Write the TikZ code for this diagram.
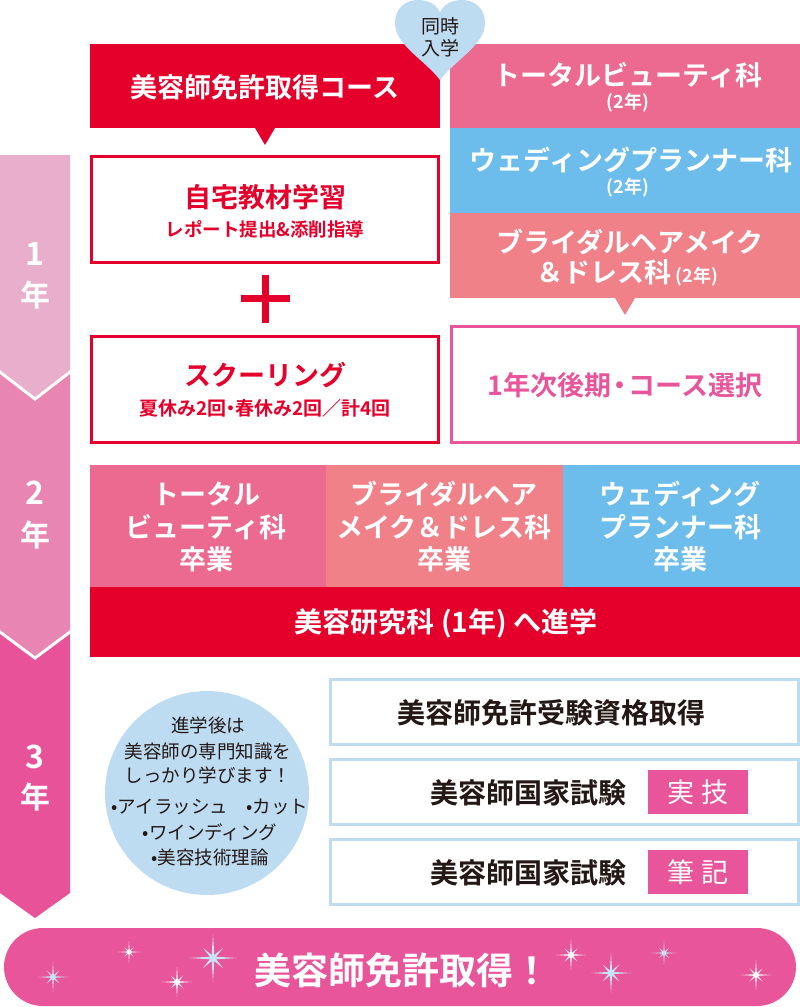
\documentclass[tikz,border=0pt]{standalone}
\usepackage{fontspec}
\setmainfont{Noto Sans CJK JP}[BoldFont={Noto Sans CJK JP Bold}]
\definecolor{cred}{HTML}{E4002B}
\definecolor{cpink}{HTML}{EC6A8F}
\definecolor{cblue}{HTML}{6CBDEB}
\definecolor{csalmon}{HTML}{F08189}
\definecolor{cmag}{HTML}{E8559A}
\definecolor{segA}{HTML}{E8AECB}
\definecolor{segB}{HTML}{E985B2}
\definecolor{segC}{HTML}{E75299}
\definecolor{clblue}{HTML}{BDDCF2}
\definecolor{cspark}{HTML}{C9E3F6}
\definecolor{cdark}{HTML}{231815}
\newcommand\myfs[1]{\fontsize{#1}{#1}\selectfont}
\newcommand\nd{\hspace{-5pt}・\hspace{-5pt}}
\newcommand\spk[4]{%
  \begin{scope}[shift={(#1,#2)}]
  \fill[#4] (0:#3) -- (22.5:0.14*#3) -- (45:0.6*#3) -- (67.5:0.14*#3) -- (90:#3) -- (112.5:0.14*#3) -- (135:0.6*#3) -- (157.5:0.14*#3) -- (180:#3) -- (202.5:0.14*#3) -- (225:0.6*#3) -- (247.5:0.14*#3) -- (270:#3) -- (292.5:0.14*#3) -- (315:0.6*#3) -- (337.5:0.14*#3) -- cycle;
  \end{scope}}
\begin{document}
\begin{tikzpicture}[x=1pt,y=-1pt,
  shapebox/.style={inner sep=0pt, outer sep=0pt},
  fillbox/.style={shapebox, fill=#1},
  framebox/.style={shapebox, draw=#1, line width=3pt, fill=white},
  wt/.style={text=white, font=\bfseries\myfs{#1}, inner sep=0pt, align=center},
  rt/.style={text=cred, font=\bfseries\myfs{#1}, inner sep=0pt, align=center},
  dt/.style={text=cdark, font=\bfseries\myfs{#1}, inner sep=0pt, align=center},
  nt/.style={text=cdark, font=\myfs{#1}, inner sep=0pt, align=center},
]
\useasboundingbox (0,0) rectangle (800,1007);
\fill[white] (0,0) rectangle (800,1007);

% ---- year arrow ----
\fill[segC] (0,630) -- (70,630) -- (70,893) -- (35,918) -- (0,893) -- cycle;
\fill[segB] (0,370) -- (70,370) -- (70,630) -- (35,656) -- (0,630) -- cycle;
\draw[white, line width=3pt] (-2,630.5) -- (35,658) -- (72,630.5);
\fill[segA] (0,155) -- (70,155) -- (70,370) -- (35,397) -- (0,370) -- cycle;
\draw[white, line width=3pt] (-2,370.5) -- (35,399) -- (72,370.5);
\node[wt=32] (y1n) at (35,254) {1};
\node[wt=30] (y1) at (35,295) {年};
\node[wt=32] (y2n) at (35,493) {2};
\node[wt=30] (y2) at (35,535) {年};
\node[wt=32] (y3n) at (35,757) {3};
\node[wt=30] (y3) at (35,797) {年};

% ---- course box ----
\node[fillbox=cred, minimum width=350, minimum height=84] (course) at (265,86) {};
\node[wt=27] (coursetxt) at (265,87) {美容師免許取得コース};
\fill[cred] ([xshift=-10pt]course.south) -- ([xshift=10pt]course.south) -- ++(-10,17) -- cycle;

% ---- right column ----
\node[fillbox=cpink, minimum width=350, minimum height=84] (total) at (625,86) {};
\node[wt=27] (totaltxt) at (628,75) {トータルビューティ科};
\node[wt=18] (total2) at (628,103) {(2年)};
\node[fillbox=cblue, minimum width=350, minimum height=85] (wed) at (625,170.5) {};
\node[wt=27] (wedtxt) at (631,160) {ウェディングプランナー科};
\node[wt=18] (wed2) at (628,188) {(2年)};
\node[fillbox=csalmon, minimum width=350, minimum height=85] (bridal) at (625,255.5) {};
\node[wt=27] (bridaltxt) at (630,242) {ブライダルヘアメイク};
\node[wt=27] (bridaltxt2) at (627,273) {＆ドレス科\,{\myfs{18}(2年)}};
\fill[csalmon] ([xshift=-10pt]bridal.south) -- ([xshift=10pt]bridal.south) -- ++(-10,17) -- cycle;

% ---- heart ----
\fill[clblue] (440,80) .. controls (425,60) and (395,45) .. (395,23) .. controls (395,8) and (406,0) .. (418,0) .. controls (430,0) and (438,6) .. (440,13) .. controls (442,6) and (450,0) .. (462,0) .. controls (474,0) and (485,8) .. (485,23) .. controls (485,45) and (455,60) .. (440,80) -- cycle;
\node[nt=19] (heart1) at (440,26) {同時};
\node[nt=19] (heart2) at (440,48) {入学};

% ---- self study ----
\node[framebox=cred, minimum width=347, minimum height=106] (study) at (265,209.5) {};
\node[rt=27] (studytxt) at (265,197) {自宅教材学習};
\node[rt=18.5] (studysub) at (265,229) {レポート提出\&添削指導};
\fill[cred] (241,295) rectangle (290,302);
\fill[cred] (262,275) rectangle (269,323);
\node[framebox=cred, minimum width=347, minimum height=106] (school) at (265,389.5) {};
\node[rt=27] (schooltxt) at (265,375) {スクーリング};
\node[rt=19] (schoolsub) at (265,408) {夏休み2回\nd 春休み2回／計4回};
\node[framebox=cmag, minimum width=347, minimum height=116] (select) at (625,384.5) {};
\node[text=cmag, font=\bfseries\myfs{27}, inner sep=0pt] (selecttxt) at (625,385) {1年次後期\nd コース選択};

% ---- graduation row ----
\node[fillbox=cpink, minimum width=236, minimum height=122] (g1) at (208,526) {};
\node[fillbox=csalmon, minimum width=237, minimum height=122] (g2) at (444.5,526) {};
\node[fillbox=cblue, minimum width=237, minimum height=122] (g3) at (681.5,526) {};
\node[wt=27] (g1a) at (206,494) {トータル};
\node[wt=27] (g1b) at (206,527) {ビューティ科};
\node[wt=27] (g1c) at (206,559) {卒業};
\node[wt=27] (g2a) at (444,494) {ブライダルヘア};
\node[wt=27] (g2b) at (444,527) {メイク＆ドレス科};
\node[wt=27] (g2c) at (444,559) {卒業};
\node[wt=27] (g3a) at (680,494) {ウェディング};
\node[wt=27] (g3b) at (680,527) {プランナー科};
\node[wt=27] (g3c) at (680,559) {卒業};
\node[fillbox=cred, minimum width=710, minimum height=70] (adv) at (445,622) {};
\node[wt=28] (advtxt) at (446,623) {美容研究科\ (1年)\ へ進学};

% ---- year 3 ----
\node[circle, fill=clblue, minimum size=204, inner sep=0pt] (bubble) at (207,793) {};
\node[nt=18.5] (b1) at (208,725) {進学後は};
\node[nt=18.5] (b2) at (208,751) {美容師の専門知識を};
\node[nt=18.5] (b3) at (208,775) {しっかり学びます！};
\node[nt=18.5] (b4) at (210,807) {•アイラッシュ\quad •カット};
\node[nt=18.5] (b5) at (210,832) {•ワインディング};
\node[nt=18.5] (b6) at (210,857) {•美容技術理論};

\node[framebox=clblue, minimum width=468, minimum height=65] (qual) at (564.5,712) {};
\node[dt=28] (qualtxt) at (551,713) {美容師免許受験資格取得};
\node[framebox=clblue, minimum width=468, minimum height=65] (exam1) at (564.5,792) {};
\node[dt=28] (exam1txt) at (528,793) {美容師国家試験};
\node[fillbox=cmag, minimum width=100, minimum height=44] (jitsugi) at (698,792) {};
\node[text=white, font=\myfs{27}, inner sep=0pt] (jitsugitxt) at (698,792) {実\hspace{8pt}技};
\node[framebox=clblue, minimum width=468, minimum height=65] (exam2) at (564.5,872) {};
\node[dt=28] (exam2txt) at (528,873) {美容師国家試験};
\node[fillbox=cmag, minimum width=100, minimum height=44] (hikki) at (698,872) {};
\node[text=white, font=\myfs{27}, inner sep=0pt] (hikkitxt) at (698,872) {筆\hspace{8pt}記};

% ---- goal ----
\node[fillbox=cmag, rounded corners=39pt, minimum width=792, minimum height=78] (goal) at (400,967) {};
\node[wt=37] (goaltxt) at (402,970) {美容師免許取得！};
\spk{53}{977}{15}{cspark}
\spk{129}{952}{11}{white}
\spk{213}{958}{24}{cspark}
\spk{177}{982}{15}{white}
\spk{571}{955}{15}{white}
\spk{611}{973}{20}{cspark}
\spk{664}{953}{12}{cspark}
\spk{756}{975}{15}{white}
\end{tikzpicture}
\end{document}
